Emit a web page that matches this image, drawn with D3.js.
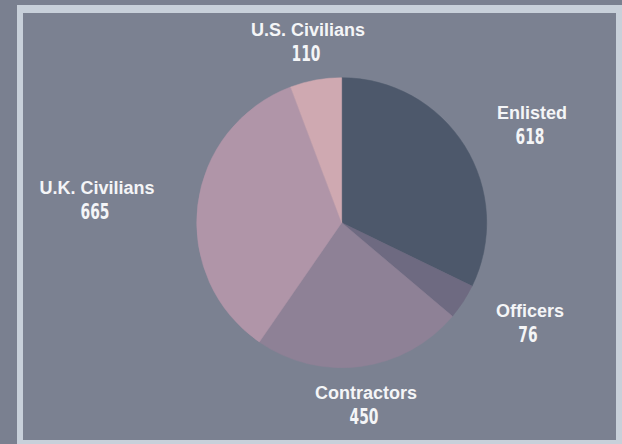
<!DOCTYPE html>
<html>
<head>
<meta charset="utf-8">
<script src="https://cdn.jsdelivr.net/npm/d3@7"></script>
<style>
  html, body { margin: 0; padding: 0; background: #7a8090; }
  svg { display: block; }
</style>
</head>
<body>
<svg id="chart"></svg>
<script>
const categories = ["Enlisted", "Officers", "Contractors", "U.K. Civilians", "U.S. Civilians"];
const values = [618, 76, 450, 665, 110];
const colors = ["#4d586b", "#6e6a81", "#8e8196", "#b095a8", "#cfa9b1"];
// label anchor points (centre of text block)
const labelPos = [[532, 119], [530, 317], [366, 399], [97, 194], [308, 36]];

const width = 622, height = 444;
const svg = d3.select("#chart").attr("width", width).attr("height", height);

svg.append("rect").attr("x", 0).attr("y", 0).attr("width", width).attr("height", height).attr("fill", "#7a8090");
// light frame
svg.append("rect").attr("x", 17).attr("y", 5).attr("width", 620).attr("height", 450).attr("fill", "#c8d0da");
svg.append("rect").attr("x", 23).attr("y", 13).attr("width", 593).attr("height", 427).attr("fill", "#7b8191");

const cx = 341.7, cy = 222.7, r = 145;

const pie = d3.pie().sort(null).value(d => d.value);
const arc = d3.arc().innerRadius(0).outerRadius(r);

const data = categories.map((c, i) => ({ name: c, value: values[i], color: colors[i], pos: labelPos[i] }));

const g = svg.append("g").attr("transform", `translate(${cx},${cy})`);
g.selectAll("path")
  .data(pie(data))
  .enter().append("path")
  .attr("d", arc)
  .attr("fill", d => d.data.color)
  .attr("stroke", d => d.data.color)
  .attr("stroke-width", 0.5);

const labels = svg.selectAll("g.label")
  .data(data)
  .enter().append("g")
  .attr("class", "label");

labels.append("text")
  .attr("x", d => d.pos[0])
  .attr("y", d => d.pos[1])
  .attr("text-anchor", "middle")
  .style("font-family", "'Liberation Sans', Arial, sans-serif")
  .style("font-weight", "bold")
  .style("font-size", "18px")
  .style("fill", "#f4f5f7")
  .text(d => d.name);

// condensed numbers: squeeze DejaVu Condensed horizontally
labels.append("text")
  .attr("transform", d => `translate(${d.pos[0] - 2},${d.pos[1] + 25}) scale(0.7,1)`)
  .attr("text-anchor", "middle")
  .style("font-family", "'DejaVu Sans Condensed', 'DejaVu Sans', sans-serif")
  .style("font-weight", "bold")
  .style("font-size", "22px")
  .style("fill", "#f4f5f7")
  .text(d => d.value);
</script>
</body>
</html>
